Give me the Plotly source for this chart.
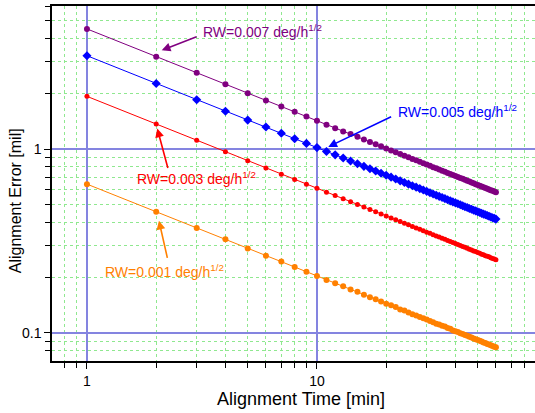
import plotly.graph_objects as go

# Alignment time [min]
time_min = list(range(1, 61))

# Alignment error [mil]
err_rw001 = [0.645, 0.456, 0.372, 0.323, 0.288, 0.263, 0.244, 0.228, 0.215, 0.204,
             0.194, 0.186, 0.179, 0.172, 0.167, 0.161, 0.156, 0.152, 0.148, 0.144,
             0.141, 0.138, 0.134, 0.132, 0.129, 0.126, 0.124, 0.122, 0.120, 0.118,
             0.116, 0.114, 0.112, 0.111, 0.109, 0.108, 0.106, 0.105, 0.103, 0.102,
             0.101, 0.0995, 0.0984, 0.0973, 0.0962, 0.0951, 0.0941, 0.0931, 0.0922, 0.0912,
             0.0903, 0.0895, 0.0886, 0.0878, 0.0869, 0.0862, 0.0855, 0.0847, 0.0840, 0.0833]
err_rw003 = [1.94, 1.37, 1.12, 0.968, 0.865, 0.790, 0.731, 0.684, 0.645, 0.612,
             0.583, 0.559, 0.537, 0.517, 0.500, 0.484, 0.469, 0.456, 0.444, 0.433,
             0.422, 0.413, 0.403, 0.395, 0.387, 0.379, 0.372, 0.366, 0.359, 0.353,
             0.348, 0.342, 0.337, 0.332, 0.327, 0.323, 0.318, 0.314, 0.310, 0.306,
             0.302, 0.299, 0.295, 0.292, 0.289, 0.285, 0.282, 0.279, 0.277, 0.274,
             0.271, 0.268, 0.266, 0.263, 0.261, 0.259, 0.256, 0.254, 0.252, 0.250]
err_rw005 = [3.23, 2.28, 1.86, 1.61, 1.44, 1.32, 1.22, 1.14, 1.075, 1.020,
             0.972, 0.931, 0.895, 0.862, 0.833, 0.806, 0.782, 0.760, 0.740, 0.721,
             0.704, 0.688, 0.672, 0.658, 0.645, 0.632, 0.621, 0.610, 0.599, 0.589,
             0.579, 0.570, 0.561, 0.553, 0.545, 0.538, 0.530, 0.523, 0.516, 0.510,
             0.504, 0.498, 0.492, 0.486, 0.481, 0.475, 0.471, 0.465, 0.461, 0.456,
             0.452, 0.447, 0.443, 0.439, 0.435, 0.431, 0.427, 0.423, 0.420, 0.416]
err_rw007 = [4.52, 3.19, 2.61, 2.26, 2.02, 1.84, 1.71, 1.60, 1.505, 1.43,
             1.36, 1.30, 1.25, 1.21, 1.17, 1.13, 1.095, 1.064, 1.036, 1.010,
             0.985, 0.963, 0.941, 0.922, 0.903, 0.885, 0.869, 0.853, 0.838, 0.824,
             0.811, 0.798, 0.786, 0.774, 0.763, 0.753, 0.742, 0.732, 0.723, 0.714,
             0.705, 0.697, 0.689, 0.681, 0.673, 0.666, 0.659, 0.652, 0.645, 0.638,
             0.632, 0.626, 0.620, 0.614, 0.609, 0.603, 0.598, 0.593, 0.588, 0.583]

labels = ["RW=0.001 deg/h<sup>1/2</sup>", "RW=0.003 deg/h<sup>1/2</sup>",
          "RW=0.005 deg/h<sup>1/2</sup>", "RW=0.007 deg/h<sup>1/2</sup>"]

x_major = [1, 10]
x_minor = [0.7, 0.8, 0.9, 2, 3, 4, 5, 6, 7, 8, 9, 20, 30, 40, 50, 60, 70, 80, 90]
y_major = [0.1, 1]
y_minor = [0.07, 0.08, 0.09, 0.2, 0.3, 0.4, 0.5, 0.6, 0.7, 0.8, 0.9, 2, 3, 4, 5, 6]

ORANGE, RED, BLUE, PURPLE = "#ff8000", "#ff0000", "#0000ff", "#800080"

fig = go.Figure()
series = [
    (err_rw001, ORANGE, "circle", 6),
    (err_rw003, RED, "circle", 5),
    (err_rw005, BLUE, "diamond", 7),
    (err_rw007, PURPLE, "circle", 6),
]
for vals, col, sym, sz in series:
    fig.add_trace(go.Scatter(
        x=time_min, y=vals, mode="lines+markers",
        line=dict(color=col, width=1),
        marker=dict(color=col, symbol=sym, size=sz, line=dict(width=0)),
        showlegend=False))

font_family = "Liberation Sans, Arial, sans-serif"

axis_common = dict(
    type="log", showline=True, linecolor="black", linewidth=1.5,
    ticks="outside", ticklen=6, tickcolor="black", tickwidth=1,
    gridcolor="#8484e0", gridwidth=1.5, zeroline=False,
    tickfont=dict(family=font_family, size=14, color="black"),
)

fig.update_xaxes(
    **axis_common, range=[-0.152, 1.948], tickvals=x_major, ticktext=["1", "10"],
    mirror=True,
    minor=dict(tickvals=x_minor, ticks="outside", ticklen=5, tickcolor="black",
               showgrid=True, gridcolor="#8fe88f", griddash="dot", gridwidth=1),
)
fig.update_yaxes(
    **axis_common, range=[-1.154, 0.780], tickvals=y_major, ticktext=["0.1", "1"],
    minor=dict(tickvals=y_minor, ticks="outside", ticklen=5, tickcolor="black",
               showgrid=True, gridcolor="#8fe88f", griddash="dot", gridwidth=1),
)

# axis titles
fig.add_annotation(xref="paper", yref="paper", x=0.5155, y=0, yshift=-38,
                   text="Alignment Time [min]", showarrow=False, yanchor="middle",
                   font=dict(family=font_family, size=18, color="black"))
fig.add_annotation(xref="paper", yref="paper", x=0, xshift=-37, y=0.45,
                   text="Alignment Error [mil]", showarrow=False, textangle=-90,
                   xanchor="center", yanchor="middle",
                   font=dict(family=font_family, size=16, color="black"))

# labels (positions in log10 axis units) and arrows
ann = [
    # text x, text y, tail x, tail y, tip x, tip y, color, label
    (0.068, -0.664, 0.351, -0.600, 0.313, -0.390, ORANGE, labels[0]),
    (0.209, -0.156, 0.3535, -0.1105, 0.3057, 0.1127, RED, labels[1]),
    (1.343, 0.2085, 1.329, 0.181, 1.049, 0.0125, BLUE, labels[2]),
    (0.495, 0.642, 0.483, 0.615, 0.325, 0.539, PURPLE, labels[3]),
]
for tx, ty, ax_, ay_, hx, hy, col, lab in ann:
    fig.add_annotation(x=tx, y=ty, xref="x", yref="y", text=lab, showarrow=False,
                       xanchor="left", yanchor="middle",
                       font=dict(family=font_family, size=14, color=col))
    fig.add_annotation(x=hx, y=hy, xref="x", yref="y", ax=ax_, ay=ay_,
                       axref="x", ayref="y", text="", showarrow=True,
                       arrowhead=2, arrowsize=1.1, arrowwidth=1.6, arrowcolor=col)

fig.update_layout(
    width=535, height=413,
    margin=dict(l=52, r=0, t=6, b=52),
    plot_bgcolor="white", paper_bgcolor="white",
    font=dict(family=font_family),
)

fig.write_html("out.html", config={"displayModeBar": False},
               post_script="document.body.style.margin='0';document.body.style.overflow='hidden';")
